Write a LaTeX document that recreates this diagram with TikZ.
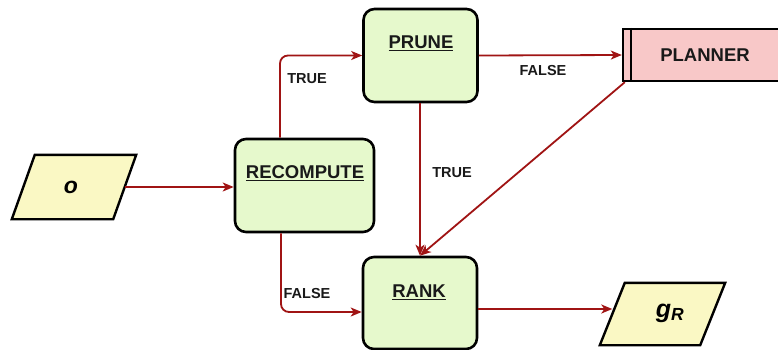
\documentclass[tikz,border=0pt]{standalone}
\usepackage{fontspec}
\setmainfont{Liberation Sans}
\usetikzlibrary{arrows.meta}
\definecolor{boxgreen}{HTML}{E6F9CC}
\definecolor{ioyellow}{HTML}{FAF8C4}
\definecolor{planpink}{HTML}{F8C8C8}
\definecolor{arrred}{HTML}{A01414}
\tikzset{
  stepbox/.style={draw=black, line width=2.6pt, fill=boxgreen, rounded corners=11pt, inner sep=0pt},
  ioframe/.style={inner sep=0pt},
  iodraw/.style={draw=black, line width=2.4pt, fill=ioyellow, line join=miter},
  planbox/.style={draw=black, line width=2.4pt, fill=planpink, inner sep=0pt},
  title/.style={font=\fontsize{18.5}{22}\selectfont\bfseries, text=black!90},
  lbl/.style={font=\fontsize{14.5}{17}\selectfont\bfseries, text=black!90},
  arr/.style={draw=arrred, line width=1.8pt, -{Stealth[length=11pt,width=9pt,inset=3pt]}}
}
\begin{document}
\begin{tikzpicture}[x=1pt,y=-1pt]
\useasboundingbox[fill=white] (0,0) rectangle (778,349);
% input parallelogram o
\node[ioframe, minimum width=101pt, minimum height=64pt] (o) at (74,187) {};
\draw[iodraw] ([xshift=-11.5pt]o.south west) -- ([xshift=11.5pt]o.north west) -- ([xshift=11.5pt]o.north east) -- ([xshift=-11.5pt]o.south east) -- cycle;
\node[font=\fontsize{23}{25}\selectfont\bfseries\itshape] (otxt) at (71,187) {o};
% steps
\node[stepbox, minimum width=139pt, minimum height=93pt] (rec) at (304.5,185.5) {};
\node[title] (rectxt) at (305,173) {\underline{RECOMPUTE}};
\node[stepbox, minimum width=114pt, minimum height=93pt] (prune) at (420.5,55.5) {};
\node[title] (prunetxt) at (421,43) {\underline{PRUNE}};
\node[stepbox, minimum width=114pt, minimum height=92pt] (rank) at (420,303) {};
\node[title] (ranktxt) at (419,292) {\underline{RANK}};
% planner (its right end runs past the edge)
\node[planbox, minimum width=174pt, minimum height=52pt] (plan) at (710,55) {};
\draw[line width=2.4pt] ([xshift=9pt]plan.north west) -- ([xshift=9pt]plan.south west);
\node[title] (plantxt) at (705,55) {PLANNER};
% output parallelogram gR
\node[ioframe, minimum width=100pt, minimum height=62pt] (gR) at (662.5,314) {};
\draw[iodraw] ([xshift=-12.5pt]gR.south west) -- ([xshift=12.5pt]gR.north west) -- ([xshift=12.5pt]gR.north east) -- ([xshift=-12.5pt]gR.south east) -- cycle;
\node[font=\fontsize{25}{27}\selectfont\bfseries\itshape] (gRtxt) at (670,313) {g\textsubscript{R}};
% connectors
\draw[arr] (o.east) -- (o.east -| rec.west);
\draw[arr, rounded corners=8pt] (rec.north -| 280,0) |- (prune.west);
\node[lbl] (ltrue1) at (307,79) {TRUE};
\draw[arr] (prune.east) -- (plan.west);
\node[lbl] (lfalse1) at (543,71) {FALSE};
\draw[arr] (prune.south -| rank.north) -- (rank.north);
\node[lbl] (ltrue2) at (452,173) {TRUE};
\draw[arr] ([xshift=3pt]plan.south west) -- (rank.north);
\draw[arr, rounded corners=8pt] (rec.south -| 281,0) |- (rank.west |- 0,312);
\node[lbl] (lfalse2) at (307,293) {FALSE};
\draw[arr] (rank.east |- 0,309) -- (gR.west |- 0,309);
\end{tikzpicture}
\end{document}
